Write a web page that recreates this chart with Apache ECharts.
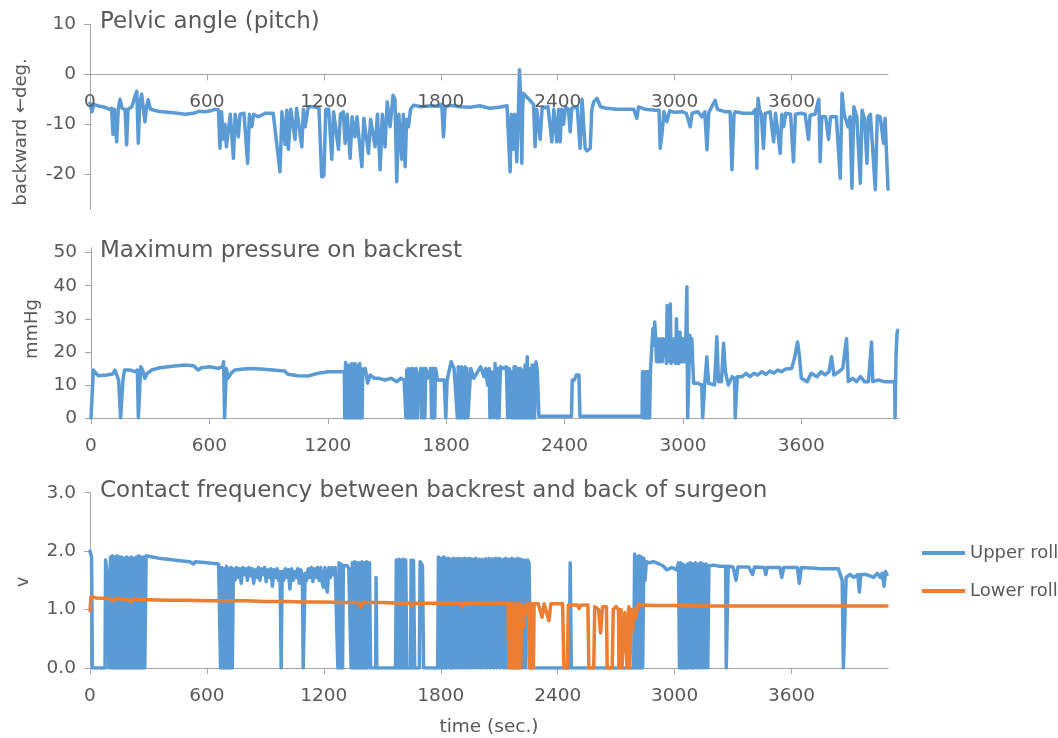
<!DOCTYPE html>
<html>
<head>
    <meta charset="utf-8">
    <title>Pelvic angle / backrest pressure / contact</title>
    <script src="https://cdn.jsdelivr.net/npm/echarts@6/dist/echarts.min.js"></script>
    <style>
        * {
            margin: 0;
            padding: 0
        }

        html, body {
            width: 100%;
            height: 100%;
            background: #fff;
        }

        #main {
            width: 1058px;
            height: 738px;
        }
    </style>
</head>
<body>
<div id="main"></div>
</body>

<script type="text/javascript">
    // ---------- data: [time (sec.), value] ----------
    var timeTicks = [0, 600, 1200, 1800, 2400, 3000, 3600];
    var pelvicTicks = [-20, -10, 0, 10];
    var pressureTicks = [0, 10, 20, 30, 40, 50];
    var contactTicks = [0, 1, 2, 3];
    var seriesNames = ['Upper roll', 'Lower roll'];

    // pelvic angle (deg.)
    var pelvicAngle = [
        [0, -5.8], [10, -7.5], [20, -6], [50, -6.4], [77, -6.6], [100, -7], [111, -6.8], [118, -12], [125, -7],
        [137, -13.5], [145, -7], [154, -5], [165, -6.8], [180, -7], [188, -14.1], [195, -7], [215, -6.5],
        [230, -4.5], [240, -3.4], [248, -13.8], [255, -6], [265, -4], [282, -9.5], [290, -6.5], [299, -5.1],
        [310, -7], [350, -7.4], [400, -7.6], [450, -7.8], [488, -8], [530, -7.8], [560, -7.4], [590, -7.5],
        [620, -7.3], [640, -7], [659, -7.1], [667, -14.8], [675, -7.5], [685, -13], [693, -10], [700, -14.5],
        [710, -14.5], [720, -8], [736, -16.8], [745, -8], [761, -12.5], [770, -8], [790, -7.8], [809, -17.8],
        [818, -8], [830, -10.5], [840, -8], [864, -8.5], [900, -7.8], [940, -7.8], [975, -19.5], [985, -7.5],
        [1001, -14], [1010, -7.2], [1018, -15], [1030, -7], [1052, -13], [1060, -6.8], [1087, -14.5], [1095, -7],
        [1104, -10.5], [1120, -6.5], [1150, -6.5], [1175, -6.8], [1189, -20.5], [1200, -20.3], [1210, -7],
        [1225, -7], [1241, -17], [1250, -7.5], [1275, -15], [1285, -8], [1300, -7.5], [1309, -13.8], [1320, -8],
        [1335, -16.8], [1345, -8.5], [1360, -12.5], [1370, -8.5], [1395, -18.5], [1405, -8.8], [1429, -15.8],
        [1440, -9], [1463, -14.5], [1475, -8], [1489, -19.1], [1500, -8], [1514, -14.5], [1525, -5.5],
        [1540, -10.5], [1555, -4.2], [1565, -5], [1574, -21.5], [1585, -8], [1600, -17], [1608, -8],
        [1617, -18.5], [1625, -9], [1634, -10.5], [1645, -7], [1660, -6.2], [1700, -6.5], [1750, -6.3],
        [1790, -6.4], [1805, -6], [1814, -12.5], [1822, -6.5], [1850, -6.2], [1900, -6.5], [1950, -6.6],
        [2000, -6.3], [2050, -6.8], [2100, -6.6], [2140, -6.3], [2150, -6.5], [2156, -19.5], [2162, -8],
        [2173, -15], [2180, -8], [2190, -17.5], [2198, -8], [2204, 0.9], [2210, -5], [2216, -17.8], [2220, -7],
        [2224, -3.8], [2240, -4.5], [2260, -5.3], [2276, -6], [2284, -14.5], [2292, -7], [2310, -13], [2320, -6.8],
        [2350, -6.5], [2370, -13.5], [2380, -7], [2395, -13.5], [2405, -7], [2413, -13.5], [2420, -7],
        [2430, -10], [2440, -6.5], [2455, -7], [2464, -11.5], [2472, -6.8], [2500, -6.5], [2515, -14.8],
        [2525, -5], [2541, -14.8], [2550, -15.3], [2567, -14.8], [2575, -7], [2585, -5.5], [2601, -4.8],
        [2620, -6.5], [2650, -6.8], [2700, -7], [2750, -7], [2790, -7], [2806, -8.8], [2815, -6.5], [2850, -7],
        [2900, -7.2], [2920, -7.2], [2926, -14.8], [2935, -12], [2945, -7.5], [2960, -9.5], [2975, -7.3],
        [3000, -7.6], [3040, -7.5], [3060, -7.8], [3080, -10.5], [3090, -7.8], [3120, -7.5], [3140, -8.5],
        [3155, -7.5], [3166, -15.1], [3175, -7.7], [3190, -6.5], [3208, -5.2], [3220, -7], [3260, -7.5],
        [3285, -7.5], [3294, -19.1], [3305, -8], [3311, -7.5], [3350, -7.8], [3400, -7.8], [3415, -7],
        [3422, -18.8], [3428, -4.8], [3435, -7], [3445, -8], [3456, -14.8], [3465, -7.8], [3490, -7.5],
        [3508, -13.5], [3518, -7.8], [3542, -15.8], [3550, -8], [3560, -10.5], [3570, -7.8], [3595, -8],
        [3610, -17.5], [3620, -8], [3650, -7.8], [3670, -8], [3687, -13], [3695, -8.2], [3720, -8], [3740, -5],
        [3747, -17.5], [3755, -8.5], [3775, -8.5], [3790, -13], [3800, -8.5], [3830, -8.5], [3850, -20.8],
        [3859, -3.8], [3870, -8], [3890, -10.5], [3900, -8.5], [3910, -22.8], [3920, -6.5], [3935, -8.5],
        [3953, -21.8], [3962, -7.2], [3975, -9], [3987, -17.8], [3995, -8.5], [4005, -8], [4030, -23.1],
        [4040, -8.3], [4055, -8.5], [4072, -13.8], [4080, -8.8], [4090, -8.5], [4095, -23]
    ];

    // maximum pressure on backrest (mmHg)
    var backrestPressure = [
        [0, 0], [10, 0], [12, 14.5], [25, 13.5], [37, 12.8], [80, 13], [110, 13.3], [121, 14.5], [140, 11.5],
        [150, 0], [157, 0], [162, 11.5], [170, 14.5], [200, 14.5], [222, 14], [235, 14.5], [240, 0], [247, 0],
        [252, 15.5], [262, 14.5], [273, 12], [285, 13.5], [307, 14.5], [350, 15.2], [400, 15.6], [475, 16],
        [520, 15.8], [543, 14.5], [560, 15.2], [600, 15.5], [644, 15], [668, 15.5], [672, 17], [677, 0],
        [682, 0], [686, 15], [694, 12], [710, 13.5], [728, 14.5], [800, 15], [860, 14.8], [920, 14.5],
        [981, 14.2], [998, 13.2], [1050, 12.8], [1100, 12.7], [1149, 13.5], [1200, 14], [1260, 14], [1284, 14],
        [1286, 0], [1290, 16.8], [1294, 0], [1298, 15], [1302, 0], [1306, 16], [1310, 0], [1314, 14.5],
        [1318, 0], [1322, 16.5], [1326, 0], [1330, 15.5], [1334, 0], [1338, 16.5], [1342, 0], [1346, 15],
        [1350, 0], [1354, 16], [1358, 0], [1362, 16.5], [1366, 0], [1370, 15], [1374, 0], [1377, 14.5],
        [1390, 15], [1402, 10.5], [1415, 13], [1436, 12], [1460, 12], [1490, 11.5], [1520, 12], [1550, 11],
        [1570, 12], [1587, 11.5], [1596, 0], [1600, 14.5], [1604, 0], [1608, 15], [1612, 0], [1616, 14],
        [1620, 0], [1624, 15], [1628, 0], [1632, 15], [1636, 0], [1640, 14.5], [1644, 0], [1648, 15], [1655, 0],
        [1660, 11.5], [1672, 15], [1676, 0], [1680, 14.5], [1684, 0], [1688, 15], [1692, 0], [1697, 15],
        [1705, 12], [1722, 15], [1726, 0], [1730, 15], [1734, 0], [1738, 15], [1742, 0], [1746, 15],
        [1756, 11.5], [1790, 11.5], [1798, 0], [1805, 11.5], [1815, 11.5], [1825, 17], [1832, 17.5],
        [1840, 15], [1850, 14.5], [1857, 0], [1861, 15.5], [1865, 0], [1869, 15], [1873, 0], [1877, 15.5],
        [1881, 0], [1885, 15], [1890, 0], [1895, 15.5], [1900, 0], [1905, 15], [1910, 0], [1925, 15],
        [1940, 12], [1960, 14], [1975, 15.5], [1992, 12.5], [2000, 15], [2010, 10], [2018, 15], [2022, 0],
        [2030, 14], [2040, 0], [2048, 16.5], [2055, 0], [2062, 15], [2068, 0], [2075, 15.5], [2090, 15],
        [2105, 15.5], [2112, 0], [2118, 15], [2124, 14], [2130, 0], [2136, 14], [2140, 0], [2144, 15.5],
        [2148, 0], [2152, 15.5], [2156, 0], [2160, 14], [2164, 0], [2168, 15], [2172, 0], [2176, 15],
        [2180, 0], [2184, 14.5], [2188, 0], [2192, 14.5], [2196, 0], [2200, 16], [2204, 0], [2211, 18.5],
        [2215, 0], [2220, 15], [2224, 0], [2228, 15], [2232, 0], [2236, 16], [2240, 0], [2244, 16],
        [2248, 0], [2255, 17], [2262, 14], [2270, 0.5], [2350, 0.5], [2435, 0.5], [2439, 11.5], [2450, 11.5],
        [2460, 13], [2473, 13], [2478, 0.5], [2600, 0.5], [2700, 0.5], [2793, 0.5], [2795, 14], [2799, 0],
        [2803, 14], [2807, 0], [2811, 14], [2815, 0], [2819, 14], [2823, 0], [2827, 14], [2831, 0], [2835, 14],
        [2843, 14], [2848, 27], [2852, 22], [2857, 29], [2862, 24], [2866, 17], [2870, 24], [2875, 23.5],
        [2880, 17], [2885, 24], [2890, 24.5], [2895, 17], [2900, 24], [2905, 23.5], [2911, 23], [2916, 16.5],
        [2920, 34], [2925, 34.5], [2930, 17], [2936, 34.5], [2940, 16.5], [2945, 24], [2950, 17], [2955, 24],
        [2960, 23.5], [2964, 16.5], [2967, 30], [2971, 17], [2975, 24], [2980, 16.5], [2985, 26], [2990, 17],
        [2995, 24], [3000, 17], [3005, 24], [3010, 17], [3015, 25], [3020, 39.7], [3024, 0], [3030, 0],
        [3035, 25], [3040, 17], [3045, 24], [3054, 10.5], [3075, 10.5], [3095, 10], [3100, 0], [3106, 0],
        [3110, 10], [3121, 18.5], [3130, 10.5], [3160, 10], [3172, 24.6], [3180, 11], [3195, 11], [3206, 22.6],
        [3215, 14], [3230, 10], [3250, 12.5], [3262, 12], [3265, 0], [3270, 0], [3275, 12.5], [3300, 12.5],
        [3320, 13.5], [3340, 12.5], [3360, 13.5], [3380, 13], [3400, 14], [3420, 13.2], [3440, 14.2],
        [3460, 13.6], [3480, 14.5], [3500, 14], [3520, 14.8], [3551, 15], [3565, 18], [3581, 23], [3590, 19],
        [3600, 12], [3610, 12.5], [3630, 11], [3650, 13.5], [3680, 12.5], [3700, 14], [3720, 13], [3740, 14],
        [3753, 18.5], [3765, 13], [3790, 14], [3810, 15], [3820, 20], [3829, 24], [3838, 11], [3860, 12],
        [3880, 11], [3900, 12.5], [3920, 11], [3940, 11], [3956, 23], [3962, 11], [3990, 11.5], [4020, 11],
        [4050, 11], [4073, 11], [4075, 0], [4078, 0], [4080, 19], [4085, 25.6], [4088, 26.5]
    ];

    // contact frequency, upper roll (v)
    var upperRoll = [
        [0, 2.0], [8, 1.9], [12, 0], [77, 0], [80, 1.85], [88, 1.88], [92, 1.5], [96, 0], [102, 0], [105, 1.9],
        [110, 0], [115, 1.92], [120, 0], [126, 1.9], [132, 0], [138, 1.92], [144, 0], [150, 1.9], [156, 0],
        [162, 1.9], [168, 0], [175, 1.88], [181, 0], [188, 1.9], [194, 0], [200, 1.88], [206, 0], [212, 1.9],
        [218, 0], [225, 1.88], [231, 0], [238, 1.9], [244, 0], [250, 1.92], [256, 0], [262, 1.9], [268, 0],
        [275, 1.9], [281, 0], [288, 1.92], [298, 1.92], [350, 1.88], [400, 1.86], [450, 1.84], [510, 1.82],
        [532, 1.78], [540, 1.82], [600, 1.8], [660, 1.78], [667, 1.75], [670, 0], [676, 1.72], [682, 0],
        [688, 1.7], [694, 0], [700, 1.74], [706, 0], [712, 1.7], [718, 0], [724, 1.72], [730, 0], [736, 1.7],
        [744, 1.5], [752, 1.72], [760, 1.55], [768, 1.7], [776, 1.45], [784, 1.72], [792, 1.6], [800, 1.7],
        [808, 1.5], [816, 1.72], [824, 1.58], [832, 1.7], [840, 1.45], [848, 1.68], [856, 1.55], [864, 1.72],
        [872, 1.5], [880, 1.7], [888, 1.6], [896, 1.72], [904, 1.48], [912, 1.68], [920, 1.55], [928, 1.7],
        [936, 1.4], [944, 1.68], [952, 1.55], [960, 1.7], [968, 1.5], [975, 1.65], [981, 0], [986, 1.65],
        [994, 1.5], [1002, 1.7], [1010, 1.55], [1018, 1.68], [1026, 1.35], [1034, 1.7], [1042, 1.5],
        [1050, 1.65], [1058, 1.55], [1066, 1.7], [1074, 1.45], [1082, 1.68], [1090, 1.55], [1094, 0],
        [1100, 0], [1104, 1.62], [1112, 1.5], [1120, 1.7], [1128, 1.55], [1136, 1.72], [1144, 1.48],
        [1152, 1.7], [1160, 1.55], [1168, 1.72], [1176, 1.5], [1184, 1.72], [1192, 1.45], [1198, 1.38],
        [1206, 1.72], [1212, 1.4], [1218, 1.3], [1226, 1.72], [1234, 1.55], [1242, 1.72], [1250, 1.6],
        [1258, 1.72], [1266, 1.7], [1272, 0], [1278, 1.8], [1284, 0], [1290, 1.78], [1296, 0], [1300, 1.75],
        [1310, 1.75], [1320, 1.75], [1328, 1.7], [1340, 0], [1346, 1.8], [1352, 0], [1358, 1.82], [1364, 0],
        [1370, 1.8], [1376, 0], [1382, 1.8], [1388, 0], [1395, 1.82], [1401, 0], [1408, 1.8], [1414, 0],
        [1420, 1.82], [1426, 0], [1434, 1.8], [1440, 0], [1466, 0], [1468, 1.55], [1472, 0], [1568, 0],
        [1572, 1.85], [1578, 0], [1584, 1.86], [1590, 0], [1596, 1.85], [1602, 0], [1608, 1.86], [1614, 0],
        [1620, 1.85], [1626, 0], [1645, 0], [1648, 1.85], [1654, 0], [1660, 1.84], [1666, 0], [1690, 0],
        [1694, 1.82], [1700, 1.8], [1706, 1.75], [1712, 0], [1784, 0], [1788, 1.9], [1796, 0], [1802, 1.88],
        [1808, 0], [1814, 1.9], [1820, 0], [1826, 1.88], [1832, 0], [1840, 1.88], [1846, 0], [1852, 1.86],
        [1858, 0], [1866, 1.88], [1872, 0], [1880, 1.87], [1886, 0], [1894, 1.88], [1900, 0], [1908, 1.87],
        [1914, 0], [1922, 1.88], [1928, 0], [1936, 1.87], [1942, 0], [1950, 1.88], [1956, 0], [1964, 1.86],
        [1970, 0], [1980, 1.88], [1986, 0], [1997, 1.86], [2003, 0], [2012, 1.86], [2018, 0], [2030, 1.87],
        [2036, 0], [2048, 1.88], [2054, 0], [2066, 1.87], [2072, 0], [2082, 1.88], [2088, 0], [2100, 1.88],
        [2106, 0], [2118, 1.86], [2124, 0], [2134, 1.88], [2140, 0], [2150, 1.86], [2156, 0], [2165, 1.88],
        [2171, 0], [2180, 1.86], [2186, 0], [2196, 1.88], [2202, 0], [2212, 1.86], [2218, 0], [2228, 1.85],
        [2234, 0], [2245, 1.85], [2253, 1.8], [2260, 0], [2460, 0], [2464, 1.8], [2470, 0], [2790, 0],
        [2795, 1.95], [2800, 0], [2806, 1.9], [2812, 0], [2818, 1.92], [2824, 0], [2830, 1.9], [2836, 0],
        [2842, 1.88], [2848, 1.5], [2855, 1.82], [2870, 1.8], [2890, 1.82], [2920, 1.78], [2940, 1.75],
        [2960, 1.68], [2985, 1.72], [3010, 1.68], [3020, 1.8], [3025, 0], [3030, 1.8], [3036, 0], [3042, 1.78],
        [3048, 0], [3054, 1.75], [3060, 0], [3066, 1.78], [3072, 0], [3080, 1.8], [3086, 0], [3092, 1.78],
        [3098, 0], [3106, 1.8], [3112, 0], [3120, 1.78], [3126, 0], [3134, 1.8], [3140, 0], [3148, 1.78],
        [3154, 0], [3162, 1.78], [3170, 0], [3176, 1.75], [3200, 1.76], [3230, 1.74], [3262, 1.74], [3265, 0],
        [3270, 0], [3275, 1.74], [3300, 1.73], [3315, 1.5], [3325, 1.73], [3380, 1.73], [3400, 1.6],
        [3410, 1.73], [3460, 1.72], [3468, 1.6], [3475, 1.72], [3540, 1.72], [3550, 1.55], [3560, 1.72],
        [3630, 1.72], [3640, 1.45], [3650, 1.72], [3700, 1.71], [3750, 1.7], [3800, 1.7], [3840, 1.7],
        [3860, 1.5], [3866, 0], [3874, 0], [3880, 1.55], [3900, 1.6], [3920, 1.55], [3940, 1.6], [3948, 1.3],
        [3955, 1.6], [3980, 1.6], [4000, 1.58], [4020, 1.55], [4040, 1.62], [4055, 1.55], [4065, 1.62],
        [4075, 1.4], [4082, 1.65], [4090, 1.6]
    ];

    // contact frequency, lower roll (v)
    var lowerRoll = [
        [0, 0.98], [5, 1.22], [30, 1.2], [100, 1.19], [120, 1.15], [130, 1.19], [200, 1.17], [210, 1.13],
        [220, 1.18], [300, 1.17], [400, 1.16], [500, 1.16], [600, 1.15], [700, 1.15], [800, 1.15], [900, 1.14],
        [1000, 1.14], [1100, 1.13], [1200, 1.13], [1300, 1.12], [1380, 1.12], [1390, 1.04], [1400, 1.12],
        [1500, 1.12], [1600, 1.11], [1640, 1.11], [1650, 1.06], [1660, 1.11], [1800, 1.11], [1900, 1.11],
        [1910, 1.05], [1920, 1.1], [2000, 1.11], [2100, 1.11], [2145, 1.1], [2150, 0], [2155, 1.1], [2160, 0],
        [2165, 1.1], [2170, 0], [2175, 1.1], [2180, 0], [2185, 1.1], [2190, 0], [2195, 1.1], [2200, 0],
        [2205, 1.1], [2210, 0], [2215, 1.08], [2225, 0.7], [2235, 1.08], [2250, 1.1], [2254, 0], [2260, 1.1],
        [2265, 0], [2270, 1.1], [2275, 0], [2279, 1.1], [2300, 1.1], [2320, 0.87], [2330, 1.1], [2355, 0.81],
        [2365, 1.1], [2425, 1.1], [2432, 0], [2450, 0], [2455, 1.08], [2500, 1.08], [2510, 1.02], [2520, 1.08],
        [2555, 1.08], [2560, 0], [2585, 0], [2590, 1.05], [2610, 1.0], [2620, 0.6], [2630, 1.05], [2650, 1.05],
        [2654, 0], [2680, 0], [2685, 1.0], [2700, 1.05], [2712, 1.0], [2714, 0], [2725, 1.0], [2730, 0],
        [2745, 0.95], [2756, 0], [2765, 1.05], [2770, 0], [2778, 1.0], [2785, 0.64], [2790, 1.0], [2800, 0.85],
        [2810, 1.05], [2818, 1.1], [2830, 1.08], [2900, 1.07], [3000, 1.07], [3100, 1.06], [3200, 1.06],
        [3300, 1.06], [3500, 1.06], [3700, 1.06], [3900, 1.06], [4090, 1.06]
    ];

    // ---------- chart ----------
    var FONT = 'DejaVu Sans';
    var GREY = '#595959';
    var AXIS = '#A6A6A6';
    var BLUE = '#5B9BD5';
    var ORANGE = '#ED7D31';
    var T_MAX = 4095;

    function plain(v) {
        return String(v);
    }

    function xAxisOf(gridIndex, margin, extra) {
        var ax = {
            type: 'value', gridIndex: gridIndex, min: 0, max: T_MAX, position: 'bottom',
            axisLine: {show: true, onZero: false, lineStyle: {color: AXIS, width: 1}},
            axisTick: {show: true, length: 6, lineStyle: {color: AXIS}, customValues: timeTicks},
            axisLabel: {color: GREY, fontSize: 18.5, fontFamily: FONT, margin: margin,
                customValues: timeTicks, formatter: plain},
            splitLine: {show: false}
        };
        for (var k in extra) ax[k] = extra[k];
        return ax;
    }

    function yAxisOf(gridIndex, min, max, ticks, fmt) {
        return {
            type: 'value', gridIndex: gridIndex, min: min, max: max,
            axisLine: {show: true, lineStyle: {color: AXIS, width: 1}},
            axisTick: {show: true, length: 6, lineStyle: {color: AXIS}, customValues: ticks},
            axisLabel: {color: GREY, fontSize: 18.5, fontFamily: FONT, margin: 14, customValues: ticks,
                formatter: fmt || plain},
            splitLine: {show: false}
        };
    }

    function lineSeries(name, data, idx, color) {
        return {
            name: name, type: 'line', data: data, xAxisIndex: idx, yAxisIndex: idx,
            showSymbol: false, symbol: 'none', animation: false,
            lineStyle: {color: color, width: 3.5, cap: 'round', join: 'round'},
            itemStyle: {color: color}
        };
    }

    var myChart = echarts.init(document.getElementById('main'), null, {renderer: 'canvas'});
    myChart.setOption({
        animation: false,
        textStyle: {fontFamily: FONT},
        title: [
            {text: 'Pelvic angle (pitch)', left: 100, top: 11},
            {text: 'Maximum pressure on backrest', left: 100, top: 240},
            {text: 'Contact frequency between backrest and back of surgeon', left: 100, top: 480}
        ].map(function (t) {
            t.padding = 0;
            t.textStyle = {color: GREY, fontSize: 23, fontWeight: 'normal', fontFamily: FONT};
            return t;
        }),
        legend: {
            data: [
                {name: seriesNames[0], icon: 'rect'},
                {name: seriesNames[1], icon: 'rect'}
            ],
            orient: 'vertical', left: 917, top: 538,
            itemWidth: 43, itemHeight: 4, itemGap: 18,
            textStyle: {color: GREY, fontSize: 18, fontFamily: FONT, lineHeight: 20}
        },
        grid: [
            {left: 90, top: 24.3, width: 798, height: 185},
            {left: 91, top: 247.7, width: 808, height: 170.3},
            {left: 90, top: 492.7, width: 798, height: 175.3}
        ],
        xAxis: [
            // pelvic panel: axis sits on the 0 deg line (27 units * 5 px above grid bottom)
            xAxisOf(0, 18, {offset: -135, z: 5}),
            xAxisOf(1, 19, {}),
            xAxisOf(2, 19, {
                name: 'time (sec.)', nameLocation: 'middle', nameGap: 50,
                nameTextStyle: {color: GREY, fontSize: 18.5, fontFamily: FONT}
            })
        ],
        yAxis: [
            yAxisOf(0, -27, 10, pelvicTicks),
            yAxisOf(1, 0, 51.5, pressureTicks),
            yAxisOf(2, 0, 3, contactTicks, function (v) {
                return v.toFixed(1);
            })
        ],
        graphic: [
            {type: 'text', x: 21, y: 132, rotation: Math.PI / 2,
                style: {text: 'backward ←deg.', fill: GREY, font: '18px "DejaVu Sans"', align: 'center', verticalAlign: 'middle'}},
            {type: 'text', x: 32, y: 329, rotation: Math.PI / 2,
                style: {text: 'mmHg', fill: GREY, font: '18px "DejaVu Sans"', align: 'center', verticalAlign: 'middle'}},
            {type: 'text', x: 23, y: 582, rotation: Math.PI / 2,
                style: {text: 'v', fill: GREY, font: '18px "DejaVu Sans"', align: 'center', verticalAlign: 'middle'}}
        ],
        series: [
            lineSeries('Pelvic angle', pelvicAngle, 0, BLUE),
            lineSeries('Maximum pressure', backrestPressure, 1, BLUE),
            lineSeries(seriesNames[0], upperRoll, 2, BLUE),
            lineSeries(seriesNames[1], lowerRoll, 2, ORANGE)
        ]
    });
</script>
</html>
